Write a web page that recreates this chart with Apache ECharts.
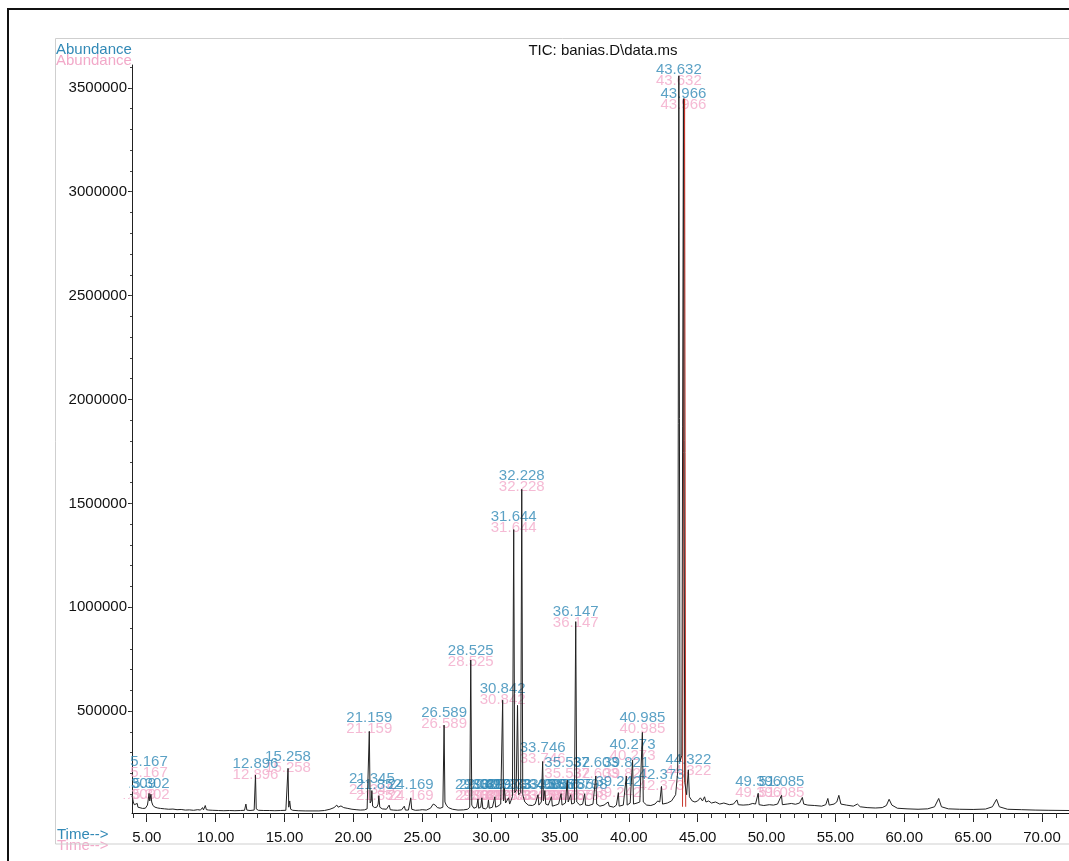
<!DOCTYPE html>
<html><head><meta charset="utf-8">
<script src="https://cdn.jsdelivr.net/npm/echarts@6/dist/echarts.min.js"></script>
<style>html,body{margin:0;padding:0;background:#fff}#c{width:1069px;height:861px}</style>
</head><body><div id="c"></div>
<script>
const UNIT = 1000; // abundances below are in thousands
const titleText = 'TIC: banias.D\\data.ms';
const yAxisName = 'Abundance';
const xAxisName = 'Time-->';
const xMajorTicks = [5, 10, 15, 20, 25, 30, 35, 40, 45, 50, 55, 60, 65, 70];
const xMinorTicks = [4,5,6,7,8,9,10,11,12,13,14,15,16,17,18,19,20,21,22,23,24,25,26,27,28,29,30,31,32,33,34,35,36,37,38,39,40,41,42,43,44,45,46,47,48,49,50,51,52,53,54,55,56,57,58,59,60,61,62,63,64,65,66,67,68,69,70,71];
const yMajorTicks = [500000, 1000000, 1500000, 2000000, 2500000, 3000000, 3500000];
const yMinorTicks = [100000,200000,300000,400000,500000,600000,700000,800000,900000,1000000,1100000,1200000,1300000,1400000,1500000,1600000,1700000,1800000,1900000,2000000,2100000,2200000,2300000,2400000,2500000,2600000,2700000,2800000,2900000,3000000,3100000,3200000,3300000,3400000,3500000,3600000];

// total ion chromatogram: [retention time (min), abundance (thousands)]
const ticTrace = [
[3.93,93],[3.97,83],[4.02,63],[4.10,50],[4.20,43],[4.309,56],[4.36,38],[4.5,34],[4.7,32],[4.9,33],[5.05,48],[5.12,78],[5.167,104],[5.22,68],[5.302,100],[5.36,63],[5.45,46],[5.6,38],[5.8,34],[6.0,32],[6.3,30],[6.6,28],[6.9,29],[7.2,26],[7.5,27],[7.8,24],[8.1,25],[8.4,23],[8.7,26],[8.9,24],[9.05,36],[9.12,25],[9.25,46],[9.33,26],[9.5,24],[9.8,23],[10.2,22],[10.6,21],[11.0,22],[11.4,21],[11.8,22],[12.1,23],[12.2,53],[12.27,24],[12.5,22],[12.8,24],[12.896,193],[12.95,30],[13.1,23],[13.5,22],[13.9,22],[14.3,21],[14.7,22],[15.1,23],[15.2,30],[15.258,225],[15.31,38],[15.38,68],[15.45,28],[15.6,23],[16.0,21],[16.5,20],[17.0,20],[17.5,20],[17.9,22],[18.3,28],[18.6,36],[18.8,48],[18.9,38],[19.1,44],[19.3,36],[19.6,32],[19.9,28],[20.2,26],[20.5,24],[20.8,25],[21.0,30],[21.1,38],[21.159,403],[21.22,58],[21.3,68],[21.345,118],[21.4,43],[21.55,36],[21.7,38],[21.8,53],[21.852,93],[21.92,38],[22.1,30],[22.4,28],[22.6,48],[22.68,26],[22.9,24],[23.2,23],[23.5,25],[23.7,43],[23.78,24],[24.0,24],[24.1,30],[24.169,83],[24.24,28],[24.5,23],[24.8,24],[25.0,26],[25.3,24],[25.6,33],[25.8,53],[25.95,48],[26.1,36],[26.3,33],[26.5,38],[26.589,433],[26.65,63],[26.75,48],[26.9,36],[27.2,28],[27.6,24],[28.0,25],[28.3,28],[28.45,38],[28.525,746],[28.6,48],[28.75,33],[28.95,38],[29.049,78],[29.1,33],[29.25,38],[29.329,83],[29.4,33],[29.6,30],[29.75,38],[29.809,73],[29.87,33],[30.1,38],[30.273,88],[30.33,38],[30.5,43],[30.7,53],[30.842,553],[30.9,68],[30.973,128],[31.05,58],[31.273,83],[31.35,53],[31.55,88],[31.644,1374],[31.72,108],[31.82,118],[31.92,528],[32.0,98],[32.15,108],[32.228,1568],[32.3,98],[32.45,63],[32.7,48],[33.0,46],[33.2,53],[33.408,98],[33.47,48],[33.65,63],[33.746,258],[33.8,68],[33.905,118],[33.97,53],[34.15,48],[34.385,88],[34.45,43],[34.7,48],[34.9,53],[35.085,103],[35.15,48],[35.4,58],[35.532,168],[35.6,63],[35.785,98],[35.85,53],[36.05,58],[36.147,931],[36.22,63],[36.45,48],[36.65,53],[36.798,103],[36.86,48],[37.1,46],[37.4,53],[37.603,188],[37.67,53],[37.9,43],[38.2,48],[38.5,63],[38.58,43],[38.9,38],[39.1,48],[39.242,108],[39.3,43],[39.6,48],[39.821,188],[39.88,48],[40.1,58],[40.273,264],[40.34,53],[40.6,58],[40.8,63],[40.985,398],[41.05,63],[41.3,48],[41.6,46],[41.9,53],[42.1,68],[42.25,63],[42.373,138],[42.45,53],[42.8,58],[43.1,68],[43.4,98],[43.55,208],[43.632,3558],[43.72,258],[43.85,288],[43.966,3448],[44.06,158],[44.2,98],[44.322,218],[44.4,88],[44.6,68],[44.8,63],[45.0,68],[45.2,83],[45.35,68],[45.5,88],[45.6,63],[45.8,68],[46.0,58],[46.3,63],[46.6,53],[46.9,58],[47.3,50],[47.6,53],[47.85,73],[47.95,50],[48.3,48],[48.7,50],[49.0,56],[49.2,53],[49.396,105],[49.46,50],[49.8,46],[50.2,50],[50.5,48],[50.8,53],[51.085,95],[51.15,50],[51.5,53],[51.8,56],[52.1,52],[52.4,58],[52.6,85],[52.7,53],[53.0,48],[53.5,46],[54.0,43],[54.3,50],[54.45,80],[54.55,48],[54.9,53],[55.1,63],[55.25,95],[55.4,53],[55.8,48],[56.3,43],[56.6,53],[56.8,40],[57.3,36],[57.9,34],[58.4,36],[58.7,46],[58.9,76],[59.1,48],[59.5,33],[60.2,30],[61.0,28],[61.7,30],[62.2,40],[62.5,80],[62.7,40],[63.2,30],[64.0,28],[65.0,27],[65.9,29],[66.4,40],[66.7,76],[66.9,40],[67.5,28],[68.5,26],[69.5,24],[70.5,23],[71.96,22]
];
// second (red) overlay trace around the main peak
const overlayTrace = [[43.9,40],[44.05,3448],[44.13,40]];

// peak labels: [retention time, label height (thousands), text]
const peakLabels = [
[4.309,150,'4.309'],[5.302,150,'5.302'],[5.167,255,'5.167'],
[12.896,246,'12.896'],[15.258,280,'15.258'],
[21.159,467,'21.159'],[21.345,174,'21.345'],[21.852,145,'21.852'],[24.169,145,'24.169'],
[26.589,491,'26.589'],[28.525,790,'28.525'],
[29.049,145,'29.049'],[29.329,145,'29.329'],[29.809,145,'29.809'],[30.273,145,'30.273'],[30.973,145,'30.973'],[31.273,145,'31.273'],
[30.842,607,'30.842'],[31.644,1435,'31.644'],[32.228,1632,'32.228'],
[33.408,145,'33.408'],[33.905,145,'33.905'],[34.385,145,'34.385'],[35.085,145,'35.085'],[35.785,145,'35.785'],[36.798,145,'36.798'],
[33.746,323,'33.746'],[35.532,251,'35.532'],[36.147,977,'36.147'],
[37.603,251,'37.603'],[39.821,251,'39.821'],[39.242,159,'39.242'],
[40.273,337,'40.273'],[40.985,467,'40.985'],[42.373,193,'42.373'],
[43.632,3586,'43.632'],[43.966,3470,'43.966'],[44.322,265,'44.322'],
[49.396,159,'49.396'],[51.085,159,'51.085']
];

const TEAL = '#3289b6';
const PINK = '#f2a9c9';
const FONT = '"Liberation Sans", Arial, sans-serif';

const toXY = arr => arr.map(p => [p[0], p[1] * UNIT]);
const labelData = peakLabels.map(p => [p[0], p[1] * UNIT, p[2]]);

const chart = echarts.init(document.getElementById('c'), null, {renderer: 'canvas'});
const xMin = 3.93, xMax = 71.96;
const yMin = 10000, yMax = 3610000;
chart.setOption({
  animation: false,
  backgroundColor: '#ffffff',
  grid: {left: 132, top: 65, right: 0, bottom: 48, containLabel: false},
  xAxis: [{
    type: 'value', min: xMin, max: xMax, position: 'bottom',
    axisLine: {show: true, onZero: false, lineStyle: {color: '#111', width: 1}},
    axisTick: {show: true, customValues: xMajorTicks, length: 9, lineStyle: {color: '#222'}},
    axisLabel: {show: true, customValues: xMajorTicks, formatter: v => v.toFixed(2), fontSize: 15, color: '#111', fontFamily: FONT, margin: 17},
    splitLine: {show: false}
  }, {
    type: 'value', min: xMin, max: xMax, position: 'top', offset: -748,
    axisLine: {show: false},
    axisTick: {show: true, inside: true, customValues: xMinorTicks, length: 5, lineStyle: {color: '#333'}},
    axisLabel: {show: false},
    splitLine: {show: false}
  }],
  yAxis: [{
    type: 'value', min: yMin, max: yMax, position: 'left',
    axisLine: {show: true, onZero: false, lineStyle: {color: '#222', width: 1}},
    axisTick: {show: true, customValues: yMajorTicks, length: 4, lineStyle: {color: '#222'}},
    axisLabel: {show: true, customValues: yMajorTicks, formatter: v => String(v), fontSize: 15, color: '#111', fontFamily: FONT, margin: 5},
    splitLine: {show: false}
  }, {
    type: 'value', min: yMin, max: yMax, position: 'right', offset: -937,
    axisLine: {show: false},
    axisTick: {show: true, inside: true, customValues: yMinorTicks, length: 2, lineStyle: {color: '#444'}},
    axisLabel: {show: false},
    splitLine: {show: false}
  }],
  series: [{
    type: 'scatter', name: 'labels2', data: labelData, symbolSize: 0, z: 1, silent: true,
    label: {show: true, position: 'inside', offset: [0, 11], formatter: p => p.data[2], color: PINK, fontSize: 15, fontFamily: FONT}
  }, {
    type: 'scatter', name: 'labels', data: labelData, symbolSize: 0, z: 2, silent: true,
    label: {show: true, position: 'inside', formatter: p => p.data[2], color: TEAL, fontSize: 15, fontFamily: FONT}
  }, {
    type: 'line', name: 'overlay', data: toXY(overlayTrace), showSymbol: false, z: 3, silent: true,
    lineStyle: {color: '#c8372d', width: 1}
  }, {
    type: 'line', name: 'TIC', data: toXY(ticTrace), showSymbol: false, z: 4, silent: true,
    lineStyle: {color: '#222', width: 1}
  }],
  graphic: [
    {type: 'rect', z: 100, silent: true, shape: {x: 56, y: 772, width: 73, height: 26}, style: {fill: '#fff'}},
    {type: 'rect', silent: true, shape: {x: 8, y: 9, width: 1200, height: 1000}, style: {fill: 'none', stroke: '#111', lineWidth: 2}},
    {type: 'text', silent: true, x: 603, y: 51, style: {text: titleText, font: '15px ' + FONT, fill: '#111', textAlign: 'center', textVerticalAlign: 'middle'}},
    {type: 'text', silent: true, x: 56, y: 61, style: {text: yAxisName, font: '15px ' + FONT, fill: PINK, textAlign: 'left', textVerticalAlign: 'middle'}},
    {type: 'text', silent: true, x: 56, y: 50, style: {text: yAxisName, font: '15px ' + FONT, fill: TEAL, textAlign: 'left', textVerticalAlign: 'middle'}},
    {type: 'text', silent: true, x: 57, y: 846, style: {text: xAxisName, font: '15px ' + FONT, fill: PINK, textAlign: 'left', textVerticalAlign: 'middle'}},
    {type: 'text', silent: true, x: 57, y: 835, style: {text: xAxisName, font: '15px ' + FONT, fill: TEAL, textAlign: 'left', textVerticalAlign: 'middle'}},
    {type: 'rect', silent: true, z: 101, shape: {x: 55.5, y: 38.5, width: 1200, height: 805.5}, style: {fill: 'none', stroke: '#cfcfcf', lineWidth: 1}}
  ]
});
</script>
</body></html>
